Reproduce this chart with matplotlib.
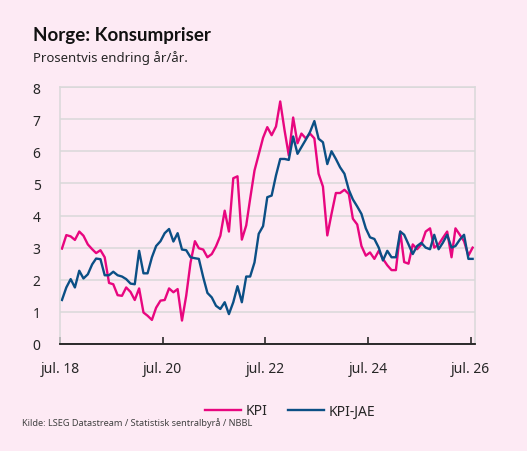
import matplotlib.pyplot as plt
import pandas as pd

# månedlige tall, jul. 2018 - jul. 2026
start = "2018-07-01"
kpi = [2.97, 3.39, 3.35, 3.24, 3.5, 3.37, 3.1, 2.95, 2.83, 2.92, 2.7, 1.9,
       1.86, 1.52, 1.5, 1.76, 1.62, 1.37, 1.73, 0.98, 0.88, 0.75, 1.13, 1.35,
       1.37, 1.73, 1.61, 1.71, 0.73, 1.5, 2.54, 3.2, 2.98, 2.94, 2.7, 2.8,
       3.04, 3.37, 4.15, 3.5, 5.16, 5.22, 3.25, 3.69, 4.52, 5.4, 5.9, 6.42,
       6.75, 6.5, 6.77, 7.55, 6.65, 5.87, 7.05, 6.25, 6.55, 6.4, 6.55, 6.4,
       5.3, 4.9, 3.38, 4.05, 4.7, 4.7, 4.8, 4.67, 3.9, 3.72, 3.05, 2.75,
       2.85, 2.65, 2.9, 2.65, 2.45, 2.3, 2.3, 3.5, 2.55, 2.5, 3.1, 2.95,
       3.1, 3.5, 3.6, 3.0, 3.1, 3.3, 3.5, 2.7, 3.6, 3.4, 3.2, 2.75,
       3.0]
kpi_jae = [1.37, 1.76, 2.02, 1.76, 2.28, 2.04, 2.17, 2.48, 2.66, 2.64, 2.14, 2.14,
           2.25, 2.14, 2.1, 2.02, 1.88, 1.86, 2.9, 2.2, 2.2, 2.7, 3.05, 3.2,
           3.45, 3.58, 3.19, 3.45, 2.94, 2.92, 2.7, 2.67, 2.65, 2.08, 1.59, 1.45,
           1.19, 1.09, 1.3, 0.93, 1.3, 1.8, 1.3, 2.1, 2.1, 2.54, 3.43, 3.67,
           4.57, 4.62, 5.25, 5.76, 5.76, 5.73, 6.46, 5.92, 6.13, 6.36, 6.6, 6.94,
           6.39, 6.28, 5.6, 6.0, 5.76, 5.5, 5.3, 4.8, 4.5, 4.28, 4.05, 3.6,
           3.32, 3.27, 3.0, 2.6, 2.9, 2.7, 2.7, 3.5, 3.4, 3.1, 2.8, 3.05,
           3.15, 3.0, 2.95, 3.4, 2.95, 3.15, 3.4, 3.0, 3.05, 3.25, 3.4, 2.65,
           2.65]
tick_dates = ["2018-07-01", "2020-07-01", "2022-07-01", "2024-07-01", "2026-07-01"]
tick_labels = ["jul. 18", "jul. 20", "jul. 22", "jul. 24", "jul. 26"]

bg = "#fdeaf4"
pink = "#e8067f"
blue = "#0b4f85"
grid = "#d9d9d9"

plt.rcParams['font.family'] = ['Noto Sans', 'DejaVu Sans']

# midt i måneden
dates = pd.date_range(start, periods=len(kpi), freq="MS") + pd.Timedelta(days=14)

fig = plt.figure(figsize=(5.27, 4.52), dpi=100, facecolor=bg)
W, H = 527, 452
ax = fig.add_axes([60 / W, (H - 345) / H, 415 / W, 257 / H])
ax.set_facecolor(bg)

l1, = ax.plot(dates, kpi, color=pink, lw=1.7, label="KPI")
l2, = ax.plot(dates, kpi_jae, color=blue, lw=1.7, label="KPI-JAE")

ax.set_ylim(0, 8)
ax.set_yticks(range(0, 9))
ax.set_xlim(pd.Timestamp("2018-07-01"), pd.Timestamp("2026-08-01"))
ax.set_xticks(pd.to_datetime(tick_dates))
ax.set_xticklabels(tick_labels)

ax.grid(axis="y", color=grid, lw=1.1)
ax.set_axisbelow(True)
for s in ["left", "right", "top"]:
    ax.spines[s].set_color(grid)
    ax.spines[s].set_linewidth(1.1)
ax.spines["bottom"].set_color("#1a1a1a")
ax.spines["bottom"].set_linewidth(1.3)
ax.tick_params(axis="y", length=0, pad=14, labelsize=10, labelcolor="#262626")
ax.tick_params(axis="x", direction="in", length=5, width=1.1, color="#1a1a1a",
               pad=12, labelsize=10, labelcolor="#262626")

fig.text(33 / W, 1 - 36 / H, "Norge: Konsumpriser", fontsize=13.5, fontweight="bold",
         family=["Lato", "DejaVu Sans"], va="center", color="#111111")
fig.text(33 / W, 1 - 58 / H, "Prosentvis endring år/år.", fontsize=9.5,
         va="center", color="#262626")

fig.legend(handles=[l1, l2], loc="center", bbox_to_anchor=(290 / W, 1 - 412 / H),
           ncol=2, frameon=False, fontsize=10, handlelength=2.6, handletextpad=0.3,
           columnspacing=1.5, labelcolor="#262626")
fig.text(22 / W, 1 - 423 / H, "Kilde: LSEG Datastream / Statistisk sentralbyrå / NBBL",
         fontsize=6.6, va="center", color="#404040")

fig.savefig("out.png", dpi=100, facecolor=bg)
